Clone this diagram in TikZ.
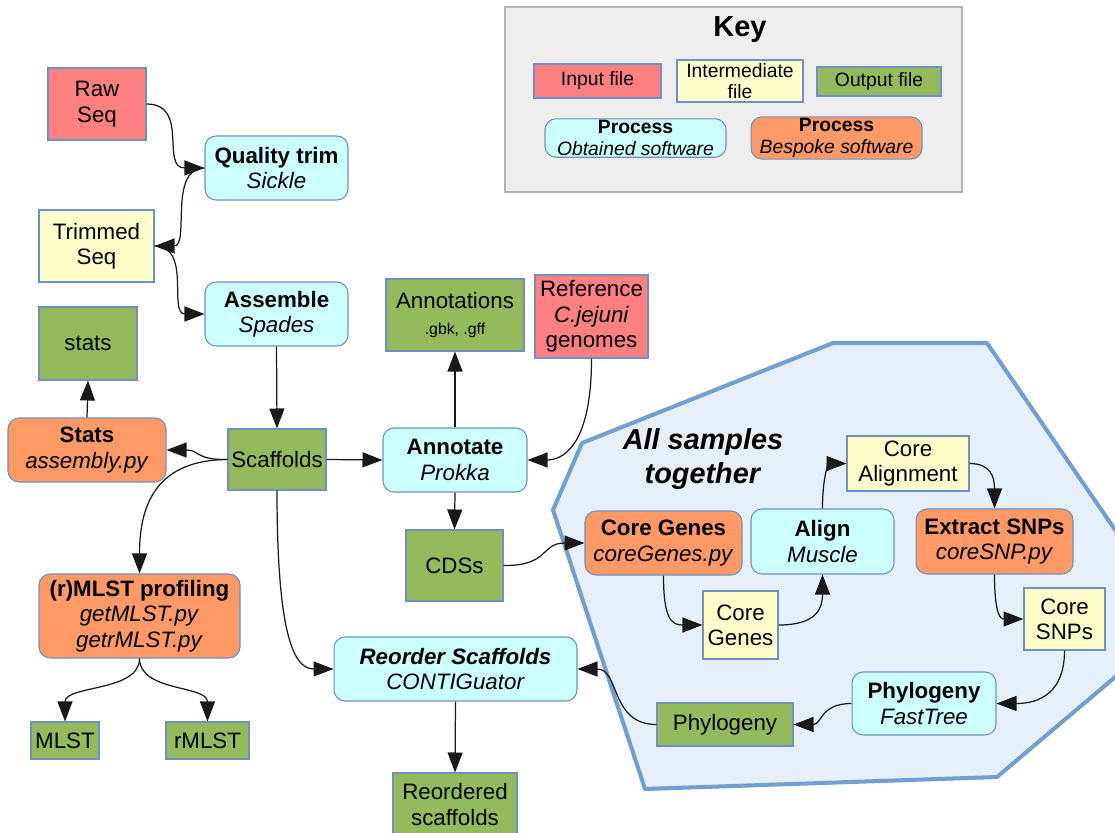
\documentclass[tikz,border=0pt]{standalone}
\usepackage{fontspec}
\setmainfont{Liberation Sans}
\usetikzlibrary{arrows.meta}

\definecolor{infill}{HTML}{FF8080}
\definecolor{midfill}{HTML}{FFFFCC}
\definecolor{outfill}{HTML}{93BB5C}
\definecolor{obtfill}{HTML}{CCFFFF}
\definecolor{bespfill}{HTML}{FF9966}
\definecolor{boxline}{HTML}{6F8FC6}
\definecolor{groupfill}{HTML}{E5F0FA}
\definecolor{groupline}{HTML}{729FCF}
\definecolor{keyfill}{HTML}{EEEEEE}
\definecolor{keyline}{HTML}{B3B3B3}

\newcommand{\nodefont}{\fontsize{12.7}{14.4}\selectfont}
\newcommand{\keyfont}{\fontsize{11}{12.2}\selectfont}
\newcommand{\gbkfont}{\fontsize{9}{10}\selectfont}

\tikzstyle{infile} = [rectangle,draw=boxline,fill=infill,line width=0.6pt,inner sep=1pt,align=center,font=\nodefont]
\tikzstyle{midfile} = [rectangle,draw=boxline,fill=midfill,line width=0.6pt,inner sep=1pt,align=center,font=\nodefont]
\tikzstyle{outfile} = [rectangle,draw=boxline,fill=outfill,line width=0.6pt,inner sep=1pt,align=center,font=\nodefont]
\tikzstyle{obtproc} = [rectangle,rounded corners=2.2mm,draw=boxline,fill=obtfill,line width=0.6pt,inner sep=1pt,align=center,font=\nodefont]
\tikzstyle{bespproc} = [rectangle,rounded corners=2.2mm,draw=boxline,fill=bespfill,line width=0.6pt,inner sep=1pt,align=center,font=\nodefont]
\tikzstyle{arr} = [-{Triangle[length=4mm,width=3mm]},line width=0.7pt,black!90]

\begin{document}
\begin{tikzpicture}[x=0.02cm,y=-0.02cm]
	\useasboundingbox (0,0) rectangle (1115,832);

	% all samples together
	\begin{scope}
		\clip (0,0) rectangle (1115,832);
		\draw[groupline,fill=groupfill,line width=2.3pt,line join=round] (582,443) -- (833,343) -- (987,343) -- (1179,623) -- (997,777) -- (645,789) -- (553,510) -- cycle;
	\end{scope}
	\node[align=center,font=\fontsize{16.4}{19}\selectfont] (together) at (703,459) {\textbf{\textit{All samples}}\\\textbf{\textit{together}}};

	% key
	\node[rectangle,draw=keyline,fill=keyfill,line width=0.8pt,minimum width=9.14cm,minimum height=3.7cm] (key) at (733.5,99.5) {};
	\node[font=\fontsize{16.5}{19}\selectfont] (keytitle) at (740,30) {\textbf{Key}};
	\node[infile,font=\keyfont,minimum width=2.54cm,minimum height=0.68cm] (keyin) at (597.5,81) {Input file};
	\node[midfile,font=\keyfont,minimum width=2.52cm,minimum height=0.84cm] (keymid) at (740,81) {Intermediate\\file};
	\node[outfile,font=\keyfont,minimum width=2.48cm,minimum height=0.58cm] (keyout) at (879,81.5) {Output file};
	\node[obtproc,font=\keyfont,minimum width=3.62cm,minimum height=0.76cm] (keyobt) at (635.5,138) {\textbf{Process}\\\textit{Obtained software}};
	\node[bespproc,font=\keyfont,minimum width=3.42cm,minimum height=0.84cm] (keybesp) at (836.5,138) {\textbf{Process}\\\textit{Bespoke software}};

	% per sample
	\node[infile,minimum width=1.96cm,minimum height=1.44cm] (rawseq) at (97,104) {Raw\\Seq};
	\node[obtproc,minimum width=2.86cm,minimum height=1.28cm] (qtrim) at (276.5,168) {\textbf{Quality trim}\\\textit{Sickle}};
	\node[midfile,minimum width=2.30cm,minimum height=1.44cm] (trimseq) at (96.5,246) {Trimmed\\Seq};
	\node[obtproc,minimum width=2.86cm,minimum height=1.28cm] (assemble) at (276.5,314) {\textbf{Assemble}\\\textit{Spades}};
	\node[outfile,minimum width=1.96cm,minimum height=1.46cm] (statsout) at (88,343.5) {stats};
	\node[bespproc,minimum width=3.16cm,minimum height=1.28cm] (statsproc) at (87,450) {\textbf{Stats}\\\textit{assembly.py}};
	\node[outfile,minimum width=1.96cm,minimum height=1.22cm] (scaffolds) at (277,459.5) {Scaffolds};
	\node[bespproc,minimum width=4.02cm,minimum height=1.68cm] (mlstproc) at (139.5,616) {\textbf{(r)MLST profiling}\\\textit{getMLST.py}\\\textit{getrMLST.py}};
	\node[outfile,minimum width=1.36cm,minimum height=0.74cm] (mlst) at (65,740.5) {MLST};
	\node[outfile,minimum width=1.66cm,minimum height=0.74cm] (rmlst) at (207.5,740.5) {rMLST};
	\node[outfile,minimum width=2.76cm,minimum height=1.44cm] (annotations) at (455,315) {Annotations\\{\gbkfont .gbk, .gff}};
	\node[infile,minimum width=2.26cm,minimum height=1.66cm] (reference) at (591.5,316.5) {Reference\\\textit{C.jejuni}\\genomes};
	\node[obtproc,minimum width=2.88cm,minimum height=1.28cm] (annotate) at (455,460) {\textbf{Annotate}\\\textit{Prokka}};
	\node[outfile,minimum width=1.94cm,minimum height=1.42cm] (cdss) at (454.5,565.5) {CDSs};
	\node[obtproc,minimum width=4.86cm,minimum height=1.28cm] (reorder) at (455.5,669) {\textbf{\textit{Reorder Scaffolds}}\\\textit{CONTIGuator}};
	\node[outfile,minimum width=2.48cm,minimum height=1.26cm] (reordered) at (455,804.5) {Reordered\\scaffolds};

	% all samples
	\node[bespproc,minimum width=3.14cm,minimum height=1.28cm] (coregenes) at (663.5,543) {\textbf{Core Genes}\\\textit{coreGenes.py}};
	\node[midfile,minimum width=1.50cm,minimum height=1.36cm] (coregenesf) at (740.5,625) {Core\\Genes};
	\node[obtproc,minimum width=2.86cm,minimum height=1.30cm] (align) at (822.5,541.5) {\textbf{Align}\\\textit{Muscle}};
	\node[midfile,minimum width=2.44cm,minimum height=1.10cm] (corealn) at (908,463.5) {Core\\Alignment};
	\node[bespproc,minimum width=3.14cm,minimum height=1.30cm] (extract) at (994.5,541.5) {\textbf{Extract SNPs}\\\textit{coreSNP.py}};
	\node[midfile,minimum width=1.62cm,minimum height=1.24cm] (coresnps) at (1064.5,619) {Core\\SNPs};
	\node[obtproc,minimum width=2.88cm,minimum height=1.26cm] (fasttree) at (924,703.5) {\textbf{Phylogeny}\\\textit{FastTree}};
	\node[outfile,minimum width=2.72cm,minimum height=0.86cm] (phylogeny) at (725,724.5) {Phylogeny};

	\draw[arr] (rawseq.east) .. controls (190,104) and (160,168) .. (qtrim.west);
	\draw[arr] (qtrim.west) .. controls (168,168) and (190,246) .. (trimseq.east);
	\draw[arr] (trimseq.east) .. controls (192,246) and (168,314) .. (assemble.west);
	\draw[arr] (assemble.south) -- (scaffolds.north);
	\draw[arr] (statsproc.north) -- (statsout.south);
	\draw[arr] (scaffolds.west) .. controls (195,460) and (200,450) .. (statsproc.east);
	\draw[arr] (scaffolds.west) .. controls (160,460) and (139.5,500) .. (mlstproc.north);
	\draw[arr] (mlstproc.south) .. controls (139.5,692) and (65,685) .. (mlst.north);
	\draw[arr] (mlstproc.south) .. controls (139.5,692) and (207.5,685) .. (rmlst.north);
	\draw[arr] (scaffolds.south) .. controls (277,640) and (295,669) .. (reorder.west);
	\draw[arr] (scaffolds.east) -- (annotate.west);
	\draw[arr] (annotate.north) -- (annotations.south);
	\draw[arr] (reference.south) .. controls (591.5,450) and (560,460) .. (annotate.east);
	\draw[arr] (annotate.south) -- (cdss.north);
	\draw[arr] (cdss.east) .. controls (550,566) and (540,543) .. (coregenes.west);
	\draw[arr] (coregenes.south) .. controls (663.5,620) and (672,625) .. (coregenesf.west);
	\draw[arr] (coregenesf.east) .. controls (815,625) and (822.5,610) .. (align.south);
	\draw[arr] (align.north) .. controls (822.5,472) and (830,463.5) .. (corealn.west);
	\draw[arr] (corealn.east) .. controls (990,463.5) and (994.5,476) .. (extract.north);
	\draw[arr] (extract.south) .. controls (994.5,619) and (1002,619) .. (coresnps.west);
	\draw[arr] (coresnps.south) .. controls (1064.5,700) and (1030,703.5) .. (fasttree.east);
	\draw[arr] (fasttree.west) .. controls (820,703.5) and (822,724.5) .. (phylogeny.east);
	\draw[arr] (phylogeny.west) .. controls (610,724.5) and (620,669) .. (reorder.east);
	\draw[arr] (reorder.south) -- (reordered.north);
\end{tikzpicture}
\end{document}
